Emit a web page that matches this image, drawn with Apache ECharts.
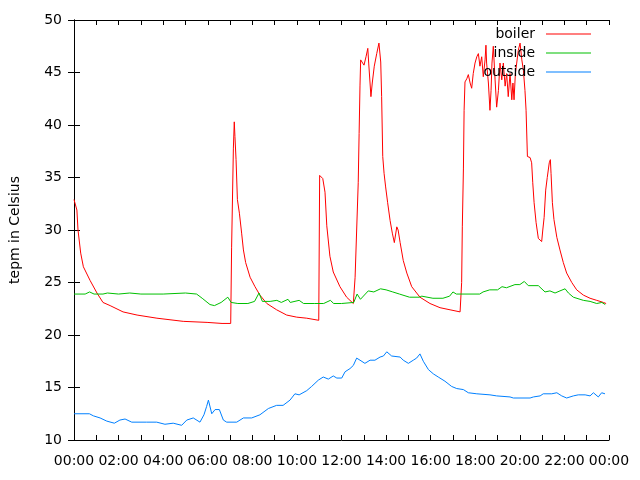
<!DOCTYPE html>
<html>
<head>
<meta charset="utf-8">
<script src="https://cdn.jsdelivr.net/npm/echarts@6/dist/echarts.min.js"></script>
<style>
  html, body { margin: 0; padding: 0; background: #fff; }
  #chart { width: 640px; height: 480px; }
</style>
</head>
<body>
<div id="chart"></div>
<script>
// hours since midnight, temperature in Celsius
const boilerTime = [0, 0.13, 0.18, 0.3, 0.42, 0.72, 1.03, 1.3, 1.62, 2.2, 2.83, 3.72, 4.9, 5.97, 6.64, 7.03,
  7.07, 7.15, 7.19, 7.22, 7.27, 7.33, 7.42, 7.52, 7.6, 7.7, 7.9, 8.12, 8.34, 8.65, 9.09, 9.54, 9.99, 10.44, 10.98,
  11.02, 11.16, 11.26, 11.34, 11.48, 11.63, 11.93, 12.23, 12.53,
  12.61, 12.68, 12.75, 12.79, 12.83, 12.86, 12.95, 13.01, 13.1, 13.18, 13.22, 13.28, 13.32, 13.38, 13.47, 13.58,
  13.68, 13.76, 13.8, 13.85, 13.91, 13.98, 14.07, 14.18, 14.28, 14.37, 14.48, 14.54, 14.63, 14.77, 14.93, 15.15,
  15.52, 15.97, 16.42, 16.87, 17.32,
  17.39, 17.42, 17.47, 17.5, 17.54, 17.62, 17.69, 17.77, 17.84, 17.91, 17.99, 18.07, 18.14, 18.21, 18.29, 18.36,
  18.44, 18.48, 18.51, 18.59, 18.66, 18.71, 18.75, 18.81, 18.89, 18.96, 19.04, 19.11, 19.19, 19.26, 19.34, 19.41,
  19.48, 19.56, 19.64, 19.69, 19.74, 19.8, 19.86, 19.93, 20.01, 20.09, 20.16, 20.23, 20.28, 20.34, 20.46, 20.53,
  20.58, 20.64, 20.73, 20.83, 20.98, 21.03, 21.09, 21.16, 21.23, 21.32, 21.37, 21.4, 21.46, 21.53, 21.66, 21.8,
  21.95, 22.1, 22.33, 22.55, 22.85, 23.15, 23.45, 23.75, 23.87]
const boilerTemp = [32.9, 31.9, 30.0, 27.8, 26.5, 25.2, 24.0, 23.1, 22.8, 22.2, 21.9, 21.6, 21.3, 21.2, 21.1, 21.1,
  28.3, 37.8, 40.3, 38.9, 36.7, 32.9, 31.6, 29.7, 28.1, 26.9, 25.5, 24.6, 23.8, 23.0, 22.4, 21.9, 21.7, 21.6, 21.4,
  35.2, 34.9, 33.6, 30.4, 27.5, 26.0, 24.6, 23.6, 23.0,
  25.5, 30.0, 34.5, 39.2, 43.8, 46.2, 45.9, 45.7, 46.5, 47.3, 45.9, 44.0, 42.7, 44.0, 45.6, 46.8,
  47.8, 46.0, 42.7, 37.0, 35.4, 34.1, 32.6, 30.9, 29.7, 28.8, 30.3, 30.0, 28.8, 27.1, 25.9, 24.6,
  23.6, 23.0, 22.6, 22.4, 22.2,
  25.0, 30.3, 35.9, 41.4, 44.1, 44.4, 44.8, 44.0, 43.5, 44.9, 45.9, 46.5, 46.8, 45.6, 46.5, 44.6,
  46.2, 47.6, 45.9, 44.0, 41.4, 43.3, 45.9, 47.5, 44.3, 41.7, 43.3, 45.9, 44.3, 45.9, 43.7, 44.9,
  42.7, 44.9, 42.4, 44.0, 42.4, 44.9, 45.9, 47.1, 47.8, 46.2, 45.2, 43.3, 41.4, 37.0, 36.9, 36.4,
  34.5, 32.6, 30.7, 29.2, 28.9, 30.0, 31.2, 33.8, 35.0, 36.4, 36.7, 35.4, 32.6, 31.0, 29.3, 28.1,
  26.9, 25.9, 25.0, 24.3, 23.8, 23.5, 23.3, 23.1, 23.0]

const insideTime = [0, 0.5, 0.7, 0.9, 1.3, 1.5, 2, 2.5, 3, 4, 5, 5.5, 5.75, 6.1, 6.3, 6.6, 6.9, 7.05, 7.35, 7.8,
  8.1, 8.3, 8.45, 8.8, 9.1, 9.3, 9.6, 9.7, 10.1, 10.3, 10.8, 11.2, 11.5, 11.65, 12.0, 12.55, 12.7, 12.85, 13.2,
  13.45, 13.75, 14.0, 14.3, 14.6, 15.05, 15.5, 15.6, 16.1, 16.55, 16.85, 17.0, 17.15, 17.45, 18.2, 18.35, 18.65,
  19.0, 19.2, 19.4, 19.78, 20.0, 20.2, 20.38, 20.83, 21.13, 21.35, 21.58, 21.8, 22.03, 22.18, 22.4, 22.85, 23.15,
  23.45, 23.68, 23.83]
const insideTemp = [23.9, 23.9, 24.1, 23.9, 23.9, 24.0, 23.9, 24.0, 23.9, 23.9, 24.0, 23.9, 23.5, 22.9, 22.8, 23.1,
  23.6, 23.1, 23.0, 23.0, 23.2, 24.0, 23.2, 23.2, 23.3, 23.1, 23.4, 23.1, 23.3, 23.0, 23.0, 23.0, 23.3, 23.0, 23.0,
  23.1, 23.9, 23.4, 24.2, 24.1, 24.4, 24.3, 24.1, 23.9, 23.6, 23.6, 23.7, 23.5, 23.5, 23.7, 24.1, 23.9, 23.9, 23.9,
  24.1, 24.3, 24.3, 24.6, 24.5, 24.8, 24.8, 25.1, 24.7, 24.7, 24.1, 24.2, 24.0, 24.2, 24.4, 24.0, 23.6, 23.3, 23.2,
  23.0, 23.1, 22.9]

const outsideTime = [0, 0.69, 0.87, 1.17, 1.47, 1.81, 2.06, 2.29, 2.59, 3.26, 3.71, 4.08, 4.45, 4.83, 5.06, 5.35,
  5.65, 5.83, 5.95, 6.03, 6.18, 6.33, 6.52, 6.7, 6.85, 7.3, 7.6, 7.97, 8.34, 8.72, 9.09, 9.38, 9.69, 9.91, 10.1,
  10.44, 10.66, 10.96, 11.18, 11.41, 11.63, 11.79, 12.01, 12.16, 12.38, 12.53, 12.68, 12.83, 13.05, 13.28, 13.5,
  13.73, 13.88, 14.03, 14.25, 14.63, 14.77, 15.0, 15.22, 15.37, 15.52, 15.67, 15.9, 16.12, 16.34, 16.64, 16.94,
  17.17, 17.47, 17.69, 18.07, 18.66, 18.96, 19.56, 19.71, 20.46, 20.61, 20.91, 21.05, 21.43, 21.66, 21.88, 22.1,
  22.4, 22.62, 22.93, 23.15, 23.3, 23.52, 23.67, 23.82]
const outsideTemp = [12.5, 12.5, 12.3, 12.1, 11.8, 11.6, 11.9, 12.0, 11.7, 11.7, 11.7, 11.5, 11.6, 11.4, 11.9, 12.1,
  11.7, 12.4, 13.2, 13.8, 12.5, 12.9, 12.9, 11.9, 11.7, 11.7, 12.1, 12.1, 12.4, 13.0, 13.3, 13.3, 13.8, 14.4, 14.3,
  14.7, 15.1, 15.7, 16.0, 15.8, 16.1, 15.9, 15.9, 16.5, 16.8, 17.1, 17.8, 17.6, 17.3, 17.6, 17.6,
  17.9, 18.0, 18.4, 18.0, 17.9, 17.6, 17.3, 17.6, 17.8, 18.2, 17.5, 16.7, 16.3, 16.0, 15.6, 15.1,
  14.9, 14.8, 14.5, 14.4, 14.3, 14.2, 14.1, 14.0, 14.0, 14.1, 14.2, 14.4, 14.4, 14.5, 14.2, 14.0,
  14.2, 14.3, 14.3, 14.2, 14.5, 14.1, 14.5, 14.4]

const zip = (t, v) => t.map((x, i) => [x, v[i]])

const font = 'DejaVu Sans'
const hourLabel = (h) => (h % 2 === 0 ? String(h % 24).padStart(2, '0') + ':00' : '')

const chart = echarts.init(document.getElementById('chart'))

const xBase = {
  type: 'value',
  min: 0,
  max: 24,
  interval: 1,
  splitLine: { show: false },
  axisLine: { lineStyle: { color: '#000', width: 1 } },
  axisTick: { inside: true, length: 5, lineStyle: { color: '#000' } },
}
const yBase = {
  type: 'value',
  min: 10,
  max: 50,
  interval: 5,
  splitLine: { show: false },
  axisLine: { show: true, lineStyle: { color: '#000', width: 1 } },
  axisTick: { show: true, inside: true, length: 6, lineStyle: { color: '#000' } },
}

const option = {
  animation: false,
  backgroundColor: '#fff',
  grid: { left: 74, right: 31, top: 20, bottom: 40 },
  legend: {
    right: 44,
    top: 22,
    orient: 'vertical',
    align: 'right',
    icon: 'rect',
    itemWidth: 45,
    itemHeight: 1,
    itemGap: 5,
    textStyle: { fontFamily: font, fontSize: 14, color: '#000', padding: [0, 6, 0, 0] },
    data: ['boiler', 'inside', 'outside'],
  },
  xAxis: [
    {
      ...xBase,
      position: 'bottom',
      axisLabel: { formatter: hourLabel, fontFamily: font, fontSize: 14, color: '#000', margin: 14 },
    },
    { ...xBase, position: 'top', axisLabel: { show: false } },
  ],
  yAxis: [
    {
      ...yBase,
      position: 'left',
      name: 'tepm in Celsius',
      nameLocation: 'middle',
      nameGap: 52,
      nameTextStyle: { fontFamily: font, fontSize: 14, color: '#000' },
      axisLabel: { fontFamily: font, fontSize: 14, color: '#000', margin: 12 },
    },
    { ...yBase, position: 'right', axisLabel: { show: false } },
  ],
  series: [
    {
      name: 'boiler',
      type: 'line',
      symbol: 'none',
      color: '#ff0000',
      lineStyle: { width: 1 },
      data: zip(boilerTime, boilerTemp),
    },
    {
      name: 'inside',
      type: 'line',
      symbol: 'none',
      color: '#00c000',
      lineStyle: { width: 1 },
      data: zip(insideTime, insideTemp),
    },
    {
      name: 'outside',
      type: 'line',
      symbol: 'none',
      color: '#0080ff',
      lineStyle: { width: 1 },
      data: zip(outsideTime, outsideTemp),
    },
  ],
}

chart.setOption(option)
</script>
</body>
</html>
